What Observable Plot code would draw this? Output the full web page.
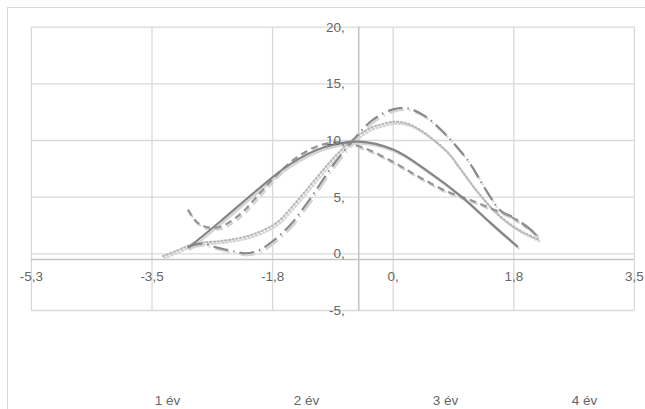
<!DOCTYPE html>
<html>
<head>
<meta charset="utf-8">
<script src="https://cdn.jsdelivr.net/npm/d3@7"></script>
<script src="https://cdn.jsdelivr.net/npm/@observablehq/plot@0.6"></script>
<style>
  html, body { margin: 0; padding: 0; background: #fff; overflow: hidden; }
  #wrap { position: relative; width: 645px; height: 409px; }
  #frame { position: absolute; left: 7px; top: 7px; width: 700px; height: 500px; border: 1.5px solid #d9d9d9; box-sizing: border-box; }
  #wrap svg { display: block; position: relative; }
</style>
</head>
<body>
<div id="wrap"><div id="frame"></div></div>
<script>
// ---- data ----
const xTicks = [-5.25, -3.5, -1.75, 0, 1.75, 3.5];
const xTickLabels = ["-5,3", "-3,5", "-1,8", "0,", "1,8", "3,5"];
const yTicks = [-5, 0, 5, 10, 15, 20];
const yTickLabels = ["-5,", "0,", "5,", "10,", "15,", "20,"];
const years = ["1 év", "2 év", "3 év", "4 év"];
const axisCrossX = -0.5;
const axisCrossY = -0.5;

const solidX = [-2.98, -2.5, -2.0, -1.5, -1.0, -0.5, 0.0, 0.5, 1.0, 1.4, 1.81];
const solidY = [0.5, 2.9, 5.5, 7.9, 9.4, 9.9, 9.2, 7.3, 5.0, 2.8, 0.6];

const dashedX = [-2.98, -2.85, -2.7, -2.5, -2.2, -2.0, -1.7, -1.4, -1.1, -0.8, -0.45, 0.0, 0.4, 0.8, 1.1, 1.4, 1.7, 1.95, 2.11];
const dashedY = [3.9, 2.8, 2.35, 2.4, 3.6, 4.9, 6.9, 8.5, 9.5, 9.85, 9.4, 8.1, 6.7, 5.45, 4.8, 4.05, 3.3, 2.3, 1.5];

const dashDotX = [-2.98, -2.78, -2.55, -2.3, -2.15, -1.95, -1.75, -1.5, -1.2, -0.9, -0.6, -0.3, 0.0, 0.2, 0.45, 0.7, 0.9, 1.1, 1.25, 1.4, 1.56, 1.75, 1.9, 2.1];
const dashDotY = [0.6, 0.9, 0.55, 0.2, 0.05, 0.3, 1.1, 2.5, 4.9, 7.6, 9.9, 11.8, 12.75, 12.85, 12.2, 10.9, 9.6, 8.1, 6.6, 5.1, 3.8, 3.2, 2.6, 1.6];

const dottedX = [-3.34, -3.13, -2.94, -2.75, -2.55, -2.36, -2.12, -1.88, -1.68, -1.39, -1.1, -0.86, -0.6, -0.33, -0.15, 0.0, 0.2, 0.4, 0.6, 0.8, 0.95, 1.07, 1.22, 1.5, 1.8, 2.1];
const dottedY = [-0.2, 0.3, 0.8, 1.0, 1.1, 1.25, 1.55, 2.1, 2.8, 4.7, 6.8, 8.5, 10.0, 11.1, 11.45, 11.65, 11.5, 10.9, 10.0, 8.9, 7.7, 6.7, 5.5, 3.6, 2.2, 1.3];

// ---- build ----
const toRows = (xs, ys) => xs.map((x, i) => ({x, y: ys[i]}));
const series = [
  {rows: toRows(dottedX, dottedY), stroke: "#b8b8b8", dash: "1.2,2.6", cap: "round"},
  {rows: toRows(dashDotX, dashDotY), stroke: "#8a8a8a", dash: "15,5,1.5,5", cap: "butt"},
  {rows: toRows(dashedX, dashedY), stroke: "#959595", dash: "7,4.5", cap: "butt"},
  {rows: toRows(solidX, solidY), stroke: "#858585", dash: null, cap: "butt"}
];

const font = "Liberation Sans, Arial, sans-serif";
const fs = 13.5;
const marks = [
  Plot.ruleY(yTicks, {stroke: "#d9d9d9", strokeWidth: 1.3}),
  Plot.ruleX(xTicks, {stroke: "#d9d9d9", strokeWidth: 1.3}),
  Plot.ruleX([axisCrossX], {stroke: "#c4c4c4", strokeWidth: 1.6}),
  Plot.ruleY([axisCrossY], {stroke: "#c4c4c4", strokeWidth: 1.6})
];
for (const s of series) {
  marks.push(Plot.line(s.rows, {x: "x", y: "y", curve: "catmull-rom", stroke: "#d4d4d4", strokeWidth: 2.2, strokeDasharray: s.dash, strokeLinecap: s.cap, dx: 1.5, dy: 2}));
}
for (const s of series) {
  marks.push(Plot.line(s.rows, {x: "x", y: "y", curve: "catmull-rom", stroke: s.stroke, strokeWidth: 2.2, strokeDasharray: s.dash, strokeLinecap: s.cap}));
}
marks.push(
  Plot.text(xTicks, {x: d => d, y: () => axisCrossY, text: (d, i) => xTickLabels[i], dy: 17, fill: "#666", fontSize: fs, textAnchor: "middle"}),
  Plot.text(yTicks, {x: () => axisCrossX, y: d => d, text: (d, i) => yTickLabels[i], dx: -14, fill: "#666", fontSize: fs, textAnchor: "end"})
);

const chart = Plot.plot({
  width: 645,
  height: 380,
  marginLeft: 30.9,
  marginRight: 11.1,
  marginTop: 26.7,
  marginBottom: 70,
  style: {fontFamily: font, background: "transparent", overflow: "visible"},
  x: {domain: [-5.25, 3.5], axis: null},
  y: {domain: [-5, 20], axis: null},
  marks
});

const bottom = Plot.plot({
  width: 645,
  height: 29,
  margin: 0,
  style: {fontFamily: font, background: "transparent"},
  x: {type: "point", domain: years, range: [167, 584], padding: 0, axis: null},
  marks: [
    Plot.text(years, {x: d => d, frameAnchor: "middle", dy: 5.5, fill: "#666", fontSize: fs})
  ]
});

const wrap = document.getElementById("wrap");
wrap.appendChild(chart);
wrap.appendChild(bottom);
</script>
</body>
</html>
